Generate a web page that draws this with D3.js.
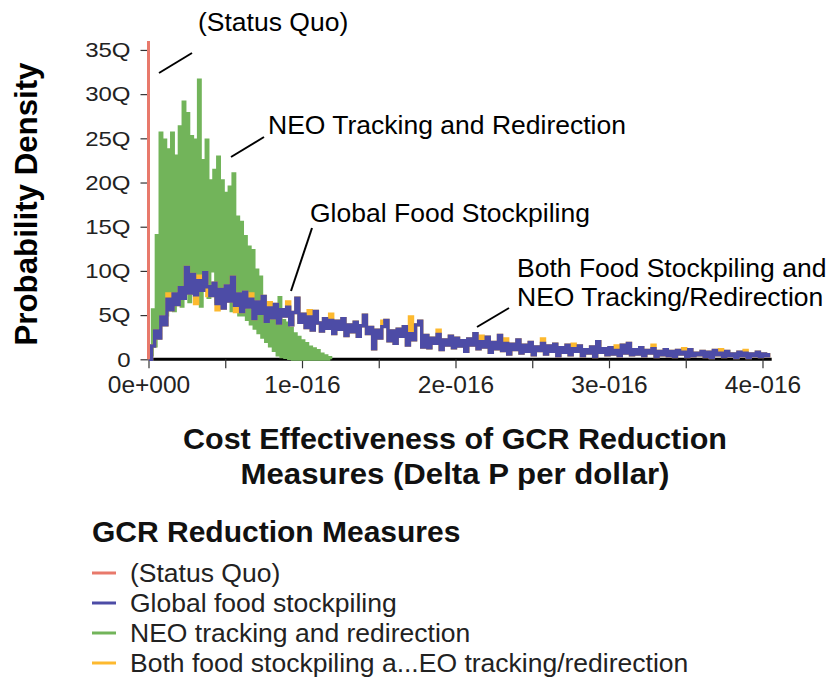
<!DOCTYPE html>
<html>
<head>
<meta charset="utf-8">
<script src="https://cdn.jsdelivr.net/npm/d3@7"></script>
<style>
    body { margin: 0; background: #fff; }
    svg { display: block; font-family: "Liberation Sans", Arial, sans-serif; }
</style>
</head>
<body>
<div id="graph"></div>
<script>
// bin widths in units of 1e-16 (delta P per dollar)
const greenBin = 0.0125;
const blueBin = 0.02;

// (Status Quo) is a single spike at zero
const statusX = [0, 0];
const statusY = [0, 36];

// NEO tracking and redirection, density in Q (1e15)
const neoTracking = [
    0, 0.5, 5.6, 1.5, 14, 3, 25.6, 4, 24.8, 5,
    23.7, 6, 25.6, 5.5, 23, 7, 26.3, 6, 29.1, 8,
    27.8, 6.5, 25.2, 9, 24.8, 7, 31.6, 6, 22.5, 8,
    24.8, 7, 20.2, 10, 21.4, 6.5, 22.9, 7, 20.2, 6,
    18.8, 7, 19.5, 5.5, 21.0, 6, 16.1, 5, 15.5, 5,
    13.9, 4.5, 12.7, 4, 12.3, 3.5, 10.1, 3, 9.3, 2.5,
    7.1, 2, 6.3, 1.5, 5.6, 1, 5.0, 0.5, 7.0, 0.3,
    4.4, 0.2, 4.1, 0.1, 3.5, 0, 2.9, 0, 2.5, 0,
    2.1, 0, 1.8, 0, 1.4, 0, 1.2, 0, 1.0, 0,
    0.6, 0, 0.4, 0, 0.2, 0
];

// Global food stockpiling
const foodStockpiling = [
    0, 1.5, 3.2, 2.4, 4.8, 3.9, 6.8, 5.6, 7.4, 6.2,
    8.1, 6.9, 10.4, 7.5, 9.6, 7.3, 8.9, 7.8, 9.8, 8.2,
    7.2, 8.6, 6.3, 7.9, 5.8, 8.3, 6.6, 9.3, 6.1, 7.4,
    5.4, 7.6, 5.9, 6.8, 4.6, 6.5, 5.2, 7.1, 4.3, 5.8,
    4.7, 6.2, 4.1, 5.6, 4.9, 5.9, 3.9, 5.3, 6.9, 4.2,
    5.1, 3.6, 4.8, 3.3, 5.4, 4.1, 3.2, 4.6, 3.5, 4.4,
    2.9, 4.3, 3.4, 4.6, 2.7, 3.9, 3.1, 4.2, 2.6, 3.8,
    5.0, 2.9, 3.6, 1.2, 3.3, 2.4, 3.7, 4.4, 2.1, 3.2,
    1.8, 3.4, 2.6, 3.7, 1.6, 2.9, 2.2, 3.9, 4.3, 1.4,
    2.7, 1.3, 2.4, 1.8, 2.8, 1.1, 2.2, 1.6, 2.6, 1.3,
    2.4, 1.5, 2.1, 0.9, 2.3, 1.6, 2.9, 1.2, 2.0, 1.4,
    2.5, 0.8, 1.9, 1.2, 2.7, 1.0, 1.8, 0.6, 1.7, 1.1,
    2.2, 0.7, 1.6, 0.9, 1.9, 0.5, 1.4, 1.0, 1.8, 0.6,
    1.5, 0.9, 1.7, 0.4, 1.3, 0.8, 1.6, 0.5, 1.2, 0.9,
    1.5, 0.4, 1.1, 0.7, 1.4, 0.3, 2.0, 0.8, 1.2, 0.5,
    1.3, 0.6, 1.0, 0.4, 1.6, 0.7, 1.8, 0.5, 1.1, 0.6,
    1.3, 0.4, 1.0, 0.7, 1.2, 0.3, 0.9, 0.5, 1.1, 0.4,
    0.9, 0.3, 1.0, 0.6, 0.8, 0.3, 1.1, 0.4, 0.7, 0.5,
    0.9, 0.3, 0.8, 0.2, 1.0, 0.5, 0.7, 0.3, 0.9, 0.4,
    0.6, 0.2, 0.8, 0.4, 0.7, 0.2, 0.6, 0.4, 0.8, 0.3,
    0.6, 0.4, 0.7
];

// Both food stockpiling and NEO tracking/redirection
const bothMeasures = [
    0, 1.5, 3.2, 2.4, 4.8, 3.9, 7.4, 5.6, 7.4, 6.2,
    8.1, 6.9, 10.4, 7.5, 9.6, 6.3, 9.4, 7.8, 9.8, 7.2,
    7.2, 8.6, 5.6, 7.9, 5.8, 8.3, 6.6, 9.3, 5.4, 7.4,
    5.4, 7.6, 5.9, 7.4, 4.6, 6.5, 5.2, 7.1, 4.3, 6.4,
    4.7, 6.2, 4.1, 5.6, 4.9, 6.5, 3.9, 5.3, 6.9, 4.2,
    5.1, 3.6, 5.5, 3.3, 5.4, 4.1, 3.2, 4.6, 3.5, 5.1,
    2.9, 4.3, 3.4, 4.6, 2.7, 3.9, 3.1, 4.2, 2.6, 3.8,
    5.0, 2.9, 3.6, 1.2, 3.3, 2.4, 4.3, 4.4, 2.1, 3.2,
    1.8, 3.4, 2.6, 3.7, 1.6, 4.8, 2.2, 3.9, 4.3, 1.4,
    2.7, 1.3, 2.4, 1.8, 3.3, 1.1, 2.2, 1.6, 2.6, 1.3,
    2.4, 1.5, 2.1, 0.9, 2.3, 1.6, 2.9, 1.2, 2.6, 1.4,
    2.5, 0.8, 1.9, 1.2, 2.7, 1.0, 2.3, 0.6, 1.7, 1.1,
    2.2, 0.7, 1.6, 0.9, 1.9, 0.5, 1.4, 1.0, 2.3, 0.6,
    1.5, 0.9, 1.7, 0.4, 1.3, 0.8, 1.6, 0.5, 1.7, 0.9,
    1.5, 0.4, 1.1, 0.7, 1.4, 0.3, 2.0, 0.8, 1.2, 0.5,
    1.3, 0.6, 1.5, 0.4, 1.6, 0.7, 1.8, 0.5, 1.1, 0.6,
    1.3, 0.4, 1.0, 0.7, 1.6, 0.3, 0.9, 0.5, 1.1, 0.4,
    0.9, 0.3, 1.0, 0.6, 1.2, 0.3, 1.1, 0.4, 0.7, 0.5,
    0.9, 0.3, 0.8, 0.2, 1.0, 0.5, 1.1, 0.3, 0.9, 0.4,
    0.6, 0.2, 0.8, 0.4, 1.0, 0.2, 0.6, 0.4, 0.8, 0.3,
    0.6, 0.4, 0.7
];

const yTicks = [0, 5, 10, 15, 20, 25, 30, 35];
const yTickLabels = ["0", "5Q", "10Q", "15Q", "20Q", "25Q", "30Q", "35Q"];
const xTicks = [0, 0.5, 1, 1.5, 2, 2.5, 3, 3.5, 4];
const xTickLabels = ["0e+000", "", "1e-016", "", "2e-016", "", "3e-016", "", "4e-016"];

const legendTitle = "GCR Reduction Measures";
const legendNames = ["(Status Quo)", "Global food stockpiling", "NEO tracking and redirection",
    "Both food stockpiling a...EO tracking/redirection"];
const colors = ["#e8796b", "#4d4ca6", "#72b45a", "#fdb92f"];

// callout labels
const callouts = [
    {lines: ["(Status Quo)"], tx: 198, ty: 31, from: [159, 73], to: [192, 53]},
    {lines: ["NEO Tracking and Redirection"], tx: 268, ty: 134, from: [231, 157], to: [264, 137]},
    {lines: ["Global Food Stockpiling"], tx: 310, ty: 222, from: [291, 291], to: [312, 228]},
    {lines: ["Both Food Stockpiling and", "NEO Tracking/Redirection"], tx: 517, ty: 277, from: [477, 327], to: [509, 308]}
];

const svg = d3.select("#graph").append("svg")
    .attr("width", 829)
    .attr("height", 681);

const x = d3.scaleLinear().domain([0, 4.06]).range([148.5, 771.7]);
const y = d3.scaleLinear().domain([0, 36]).range([359.3, 41.1]);

// y axis
const yAxis = svg.append("g")
    .attr("transform", `translate(${x(0)},0)`)
    .call(d3.axisLeft(y).tickValues(yTicks).tickSize(8).tickPadding(0)
        .tickFormat((d, i) => yTickLabels[i]));
yAxis.select(".domain").remove();
yAxis.selectAll(".tick line").attr("stroke", "#333").attr("stroke-width", 1.2);
yAxis.selectAll(".tick text")
    .attr("x", -15)
    .attr("dy", "0.34em")
    .attr("font-size", 20)
    .attr("fill", "#222")
    .attr("font-family", "Liberation Sans, Arial, sans-serif")
    .attr("transform", "scale(1.2,1)");

// x axis
const xAxis = svg.append("g")
    .attr("transform", `translate(0,${y(0)})`)
    .call(d3.axisBottom(x).tickValues(xTicks).tickSize(9).tickPadding(7)
        .tickFormat((d, i) => xTickLabels[i]));
xAxis.select(".domain").attr("stroke", "#000").attr("stroke-width", 3)
    .attr("d", `M${x(0)},0H${x(4.06)}`);
xAxis.selectAll(".tick line").attr("stroke", "#333").attr("stroke-width", 1.2);
xAxis.selectAll(".tick text")
    .attr("font-size", 24.5)
    .attr("fill", "#222")
    .attr("font-family", "Liberation Sans, Arial, sans-serif");

// series
const histLine = bin => d3.line()
    .x((d, i) => x(i * bin))
    .y(d => y(d))
    .curve(d3.curveStepAfter);

svg.append("path").datum(neoTracking)
    .attr("fill", "none").attr("stroke", colors[2]).attr("stroke-width", 3)
    .attr("d", histLine(greenBin));

svg.append("path").datum(bothMeasures)
    .attr("fill", "none").attr("stroke", colors[3]).attr("stroke-width", 3.4)
    .attr("d", histLine(blueBin));

svg.append("path").datum(foodStockpiling)
    .attr("fill", "none").attr("stroke", colors[1]).attr("stroke-width", 3.4)
    .attr("d", histLine(blueBin));

svg.append("path").datum(statusY)
    .attr("fill", "none").attr("stroke", colors[0]).attr("stroke-width", 3)
    .attr("d", d3.line().x((d, i) => x(statusX[i])).y(d => y(d)));

// callouts
callouts.forEach(c => {
    svg.append("line")
        .attr("x1", c.from[0]).attr("y1", c.from[1])
        .attr("x2", c.to[0]).attr("y2", c.to[1])
        .attr("stroke", "#000").attr("stroke-width", 2);
    c.lines.forEach((t, i) => {
        svg.append("text")
            .attr("x", c.tx).attr("y", c.ty + i * 29)
            .attr("font-size", 26.5)
            .attr("fill", "#000")
            .text(t);
    });
});

// axis titles
svg.append("text")
    .attr("transform", "translate(37,204) rotate(-90)")
    .attr("text-anchor", "middle")
    .attr("font-size", 31)
    .attr("font-weight", "bold")
    .attr("textLength", 283)
    .attr("lengthAdjust", "spacingAndGlyphs")
    .text("Probability Density");

const xTitle = ["Cost Effectiveness of GCR Reduction", "Measures (Delta P per dollar)"];
const xTitleWidths = [544, 429];
xTitle.forEach((t, i) => {
    svg.append("text")
        .attr("x", 455).attr("y", 449 + i * 35)
        .attr("text-anchor", "middle")
        .attr("font-size", 30)
        .attr("font-weight", "bold")
        .attr("fill", "#111")
        .attr("textLength", xTitleWidths[i])
        .attr("lengthAdjust", "spacingAndGlyphs")
        .text(t);
});

// legend
svg.append("text")
    .attr("x", 92).attr("y", 542)
    .attr("font-size", 30)
    .attr("font-weight", "bold")
    .attr("fill", "#111")
    .text(legendTitle);

const legend = svg.append("g").selectAll("g")
    .data(legendNames)
    .join("g")
    .attr("transform", (d, i) => `translate(92,${573 + i * 30})`);
legend.append("line")
    .attr("x1", 0).attr("x2", 24)
    .attr("stroke", (d, i) => colors[i])
    .attr("stroke-width", 3);
legend.append("text")
    .attr("x", 38).attr("y", 9)
    .attr("font-size", 26.5)
    .attr("fill", "#222")
    .text(d => d);
</script>
</body>
</html>
